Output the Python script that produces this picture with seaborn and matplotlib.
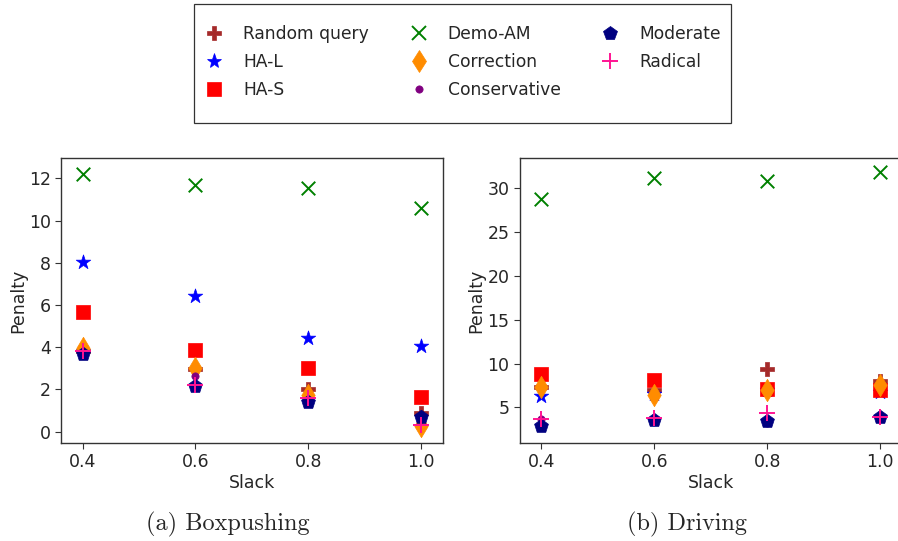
import matplotlib
matplotlib.use("Agg")
import matplotlib.pyplot as plt
from matplotlib.patches import Rectangle
import seaborn as sns
import pandas as pd

sns.set_style("ticks")
plt.rcParams["font.family"] = ["DejaVu Sans"]

slack = [0.4, 0.6, 0.8, 1.0]
methods = ["Random query", "HA-L", "HA-S", "Demo-AM", "Correction",
           "Conservative", "Moderate", "Radical"]

# Boxpushing penalties per method (one value per slack level)
box_random = [3.80, 2.97, 2.02, 0.87]
box_hal = [8.05, 6.45, 4.45, 4.07]
box_has = [5.68, 3.87, 3.00, 1.66]
box_demo = [12.20, 11.70, 11.53, 10.60]
box_correction = [3.95, 3.00, 1.75, 0.27]
box_conservative = [3.75, 2.64, 1.50, 0.60]
box_moderate = [3.70, 2.16, 1.39, 0.71]
box_radical = [3.80, 2.20, 1.58, 0.32]

# Driving penalties per method
drv_random = [7.28, 7.00, 9.37, 8.00]
drv_hal = [6.33, 6.50, 7.00, 6.80]
drv_has = [8.80, 8.10, 7.13, 7.00]
drv_demo = [28.78, 31.14, 30.87, 31.83]
drv_correction = [7.30, 6.40, 6.98, 7.55]
drv_conservative = [3.70, 3.40, 3.17, 3.90]
drv_moderate = [2.87, 3.55, 3.48, 3.93]
drv_radical = [3.63, 3.82, 4.32, 3.86]

box_values = [box_random, box_hal, box_has, box_demo, box_correction,
              box_conservative, box_moderate, box_radical]
drv_values = [drv_random, drv_hal, drv_has, drv_demo, drv_correction,
              drv_conservative, drv_moderate, drv_radical]

styles = {
    "Random query": dict(marker="P", color="brown", s=95),
    "HA-L": dict(marker="*", color="blue", s=120),
    "HA-S": dict(marker="s", color="red", s=95),
    "Demo-AM": dict(marker="x", color="green", s=95),
    "Correction": dict(marker="d", color="darkorange", s=130),
    "Conservative": dict(marker=".", color="purple", s=110),
    "Moderate": dict(marker="p", color="navy", s=110),
    "Radical": dict(marker="+", color="deeppink", s=130),
}

FS = 12.5


def long_frame(values):
    rows = []
    for name, vals in zip(methods, values):
        for x, y in zip(slack, vals):
            rows.append({"Method": name, "Slack": x, "Penalty": y})
    return pd.DataFrame(rows)


fig = plt.figure(figsize=(8.98, 5.41), dpi=100)
W, H = 898, 541


def px_axes(left, top, right, bottom):
    return fig.add_axes([left / W, 1 - bottom / H, (right - left) / W, (bottom - top) / H])


ax1 = px_axes(61.3, 158, 443, 443)
ax2 = px_axes(520, 158, 902, 443)


def draw(ax, df, ylim, yticks):
    for name in methods:
        st = styles[name]
        sub = df[df["Method"] == name]
        lw = 1.4 if st["marker"] in ("x", "+") else 0.5
        sns.scatterplot(data=sub, x="Slack", y="Penalty", ax=ax,
                        marker=st["marker"], color=st["color"], s=st["s"],
                        edgecolor=st["color"], linewidth=lw, label=name,
                        legend=False, zorder=3)
    ax.set_xlim(0.362, 1.039)
    ax.set_ylim(*ylim)
    ax.set_xticks(slack)
    ax.set_xticklabels([f"{v:.1f}" for v in slack])
    ax.set_yticks(yticks)
    ax.tick_params(labelsize=FS, length=4, width=0.8, color="#333333")
    ax.set_xlabel("Slack", fontsize=FS, labelpad=2)
    ax.set_ylabel("Penalty", fontsize=FS)
    for sp in ax.spines.values():
        sp.set_color("#333333")
        sp.set_linewidth(1.0)


draw(ax1, long_frame(box_values), (-0.54, 12.97), [0, 2, 4, 6, 8, 10, 12])
draw(ax2, long_frame(drv_values), (0.93, 33.46), [5, 10, 15, 20, 25, 30])

ax1.yaxis.set_label_coords(-0.09, 0.5)
ax2.yaxis.set_label_coords(-0.09, 0.5)

# shared legend across the top, inside a plain rectangular frame
fig.patches.append(Rectangle((194 / W, 1 - 123 / H), (731 - 194) / W, (123 - 4) / H,
                             transform=fig.transFigure, fill=False,
                             edgecolor="#333333", linewidth=0.9))
handles = []
for name in methods:
    st = styles[name]
    lw = 1.4 if st["marker"] in ("x", "+") else 0.5
    h = plt.Line2D([], [], linestyle="none", marker=st["marker"],
                   markersize=st["s"] ** 0.5, color=st["color"],
                   markeredgecolor=st["color"], markeredgewidth=lw)
    handles.append(h)
fig.legend(handles, methods, loc="center", ncol=3,
           bbox_to_anchor=(462.5 / W, 1 - 62 / H), fontsize=12.3,
           frameon=False, handletextpad=1.1, columnspacing=2.3,
           labelspacing=0.6, handlelength=1.2)

fig.text(227.5 / W, 1 - 524 / H, "(a) Boxpushing", family="cmr10",
         fontsize=17.5, ha="center", va="center")
fig.text(687 / W, 1 - 524 / H, "(b) Driving", family="cmr10",
         fontsize=17.5, ha="center", va="center")

fig.savefig("out.png", dpi=100)
